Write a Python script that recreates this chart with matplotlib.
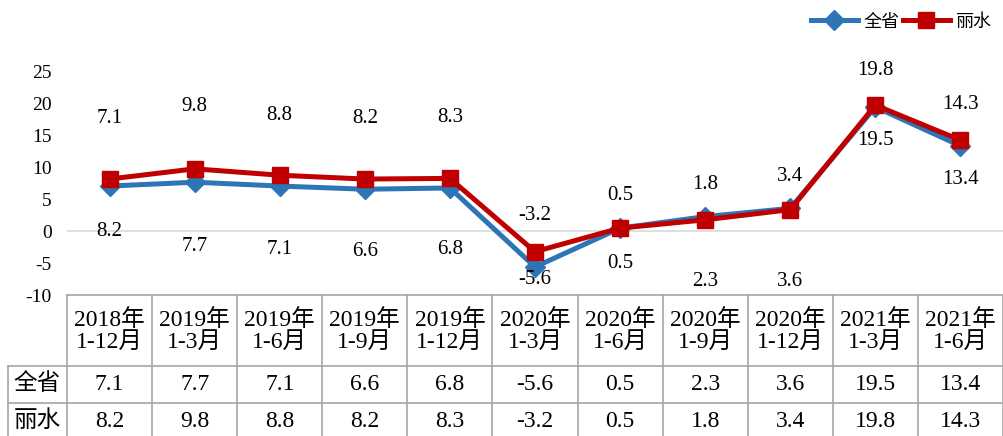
import matplotlib
matplotlib.use("Agg")
import matplotlib.pyplot as plt

plt.rcParams['font.family'] = ['Liberation Serif', 'Noto Sans CJK SC', 'DejaVu Sans']
plt.rcParams['axes.unicode_minus'] = False

# 數據
periods = ["2018年\n1-12月", "2019年\n1-3月", "2019年\n1-6月", "2019年\n1-9月", "2019年\n1-12月",
           "2020年\n1-3月", "2020年\n1-6月", "2020年\n1-9月", "2020年\n1-12月", "2021年\n1-3月",
           "2021年\n1-6月"]
province = [7.1, 7.7, 7.1, 6.6, 6.8, -5.6, 0.5, 2.3, 3.6, 19.5, 13.4]
lishui = [8.2, 9.8, 8.8, 8.2, 8.3, -3.2, 0.5, 1.8, 3.4, 19.8, 14.3]
# 圖上標籤（原圖第一個點上下標籤互換）
top_labels = [7.1, 9.8, 8.8, 8.2, 8.3, -3.2, 0.5, 1.8, 3.4, 19.8, 14.3]
bottom_labels = [8.2, 7.7, 7.1, 6.6, 6.8, -5.6, 0.5, 2.3, 3.6, 19.5, 13.4]
series_names = ["全省", "丽水"]

# 標籤偏移（像素）
top_off = [61, 62, 60, 61, 61, 36, 33, 35, 33, 35, 36]
bottom_off = [45, 64, 63, 62, 62, 13, 35, 65, 73, 33, 34]

W, H = 1004, 436
blue = "#2E75B6"
red = "#C00000"
grid_gray = "#A6A6A6"

fig = plt.figure(figsize=(W / 100, H / 100), dpi=100)
x0, x1 = 67, 1003
ax = fig.add_axes([x0 / W, 1 - 295 / H, (x1 - x0) / W, (295 - 72) / H])
x = list(range(len(periods)))

ax.axhline(0, color="#D9D9D9", lw=1.2, zorder=1)
ax.plot(x, province, color=blue, lw=3.6, marker="D", markersize=10, zorder=3, label=series_names[0])
ax.plot(x, lishui, color=red, lw=3.6, marker="s", markersize=12, zorder=4, label=series_names[1])

for i in x:
    ax.annotate(f"{top_labels[i]:.1f}", (i, lishui[i]), xytext=(0, top_off[i]),
                textcoords="offset pixels", ha="center", va="center", fontsize=15)
    ax.annotate(f"{bottom_labels[i]:.1f}", (i, province[i]), xytext=(0, -bottom_off[i]),
                textcoords="offset pixels", ha="center", va="center", fontsize=15)

ax.set_xlim(-0.5, len(periods) - 0.5)
ax.set_ylim(-10, 25)
ax.set_yticks(range(-10, 26, 5))
ax.set_xticks([])
ax.tick_params(axis="y", length=0, labelsize=14, pad=11)
for s in ax.spines.values():
    s.set_visible(False)

ax.legend(loc="upper right", bbox_to_anchor=(1004 / W, 1.0), bbox_transform=fig.transFigure,
          ncol=2, frameon=False, handlelength=2.6, columnspacing=0.2, handletextpad=0.3,
          borderaxespad=0.3, prop={"family": ["Noto Sans CJK SC"], "size": 13})

# 數據表（y 以像素計，自表頂向下）
tab_h = H - 295
tab = fig.add_axes([x0 / W, 0, (x1 - x0) / W, tab_h / H])
tab.axis("off")
col_w = (x1 - x0) / len(periods)
left_edge = -0.5 - (x0 - 8) / col_w
row_y = [0, 71, 108, 145]

for i in range(len(periods) + 1):
    tab.plot([i - 0.5, i - 0.5], [0, tab_h], color=grid_gray, lw=1.2, clip_on=False)
tab.plot([left_edge, left_edge], [row_y[1], tab_h], color=grid_gray, lw=1.2, clip_on=False)
tab.plot([-0.5, len(periods) - 0.5], [0, 0], color=grid_gray, lw=1.2, clip_on=False)
for y in row_y[1:3]:
    tab.plot([left_edge, len(periods) - 0.5], [y, y], color=grid_gray, lw=1.2, clip_on=False)

for i, p in enumerate(periods):
    tab.text(i, 36, p, ha="center", va="center", fontsize=17, linespacing=1.1)
    tab.text(i, 89, f"{province[i]:.1f}", ha="center", va="center", fontsize=17)
    tab.text(i, 126, f"{lishui[i]:.1f}", ha="center", va="center", fontsize=17)
lab_x = (left_edge - 0.5) / 2
tab.text(lab_x, 89, series_names[0], ha="center", va="center", fontsize=17)
tab.text(lab_x, 126, series_names[1], ha="center", va="center", fontsize=17)

tab.set_xlim(-0.5, len(periods) - 0.5)
tab.set_ylim(tab_h, 0)

fig.savefig("out.png", dpi=100)
